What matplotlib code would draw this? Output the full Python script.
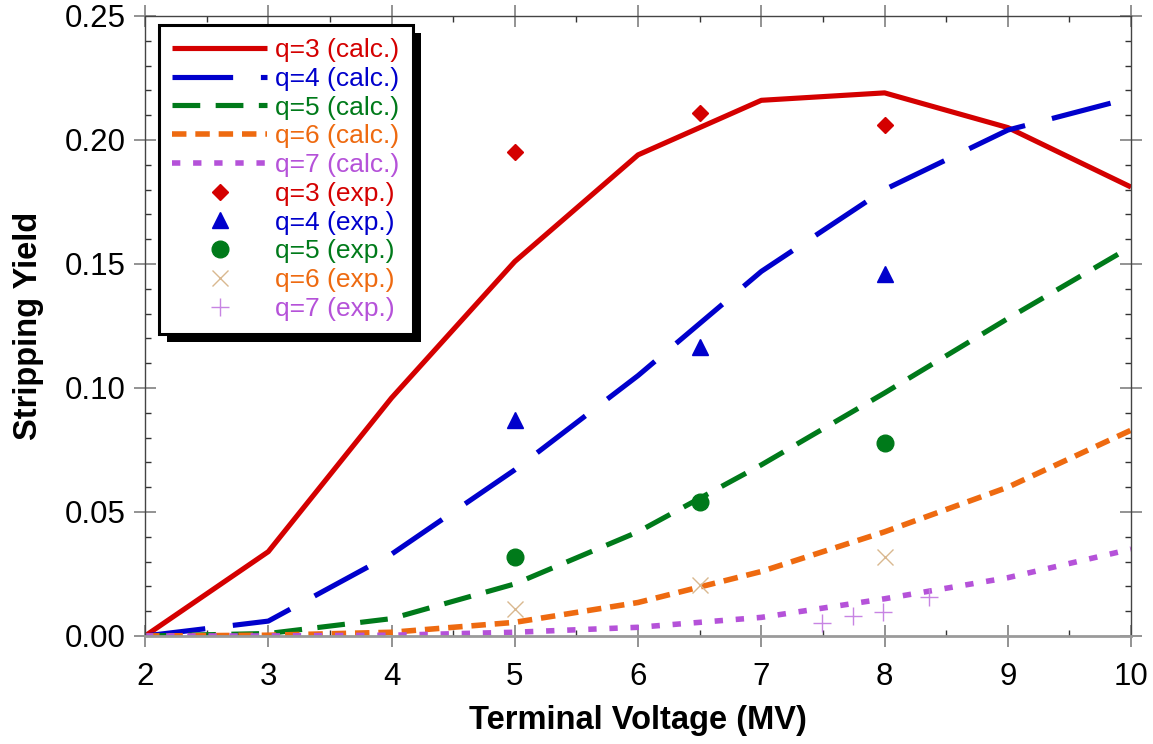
import matplotlib
matplotlib.use("Agg")
import matplotlib.pyplot as plt
from matplotlib.patches import Rectangle
from matplotlib.ticker import MultipleLocator, FormatStrFormatter

plt.rcParams['font.family'] = ['Liberation Sans', 'DejaVu Sans']

# calculated curves
v_calc = [2, 3, 4, 5, 6, 7, 8, 9, 10]
q3_calc = [0.0, 0.034, 0.096, 0.151, 0.194, 0.216, 0.219, 0.205, 0.181]
q4_calc = [0.0, 0.006, 0.033, 0.067, 0.105, 0.147, 0.180, 0.204, 0.217]
q5_calc = [0.0, 0.001, 0.007, 0.021, 0.042, 0.069, 0.098, 0.128, 0.157]
q6_calc = [0.0, 0.0003, 0.0015, 0.0055, 0.0135, 0.026, 0.042, 0.060, 0.083]
q7_calc = [0.0, 0.0, 0.0003, 0.0015, 0.0035, 0.0075, 0.015, 0.0235, 0.035]

# experimental points
v_exp = [5, 6.5, 8]
q3_exp = [0.195, 0.211, 0.206]
q4_exp = [0.087, 0.1165, 0.146]
q5_exp = [0.032, 0.054, 0.078]
q6_exp = [0.011, 0.0205, 0.032]
v_exp7 = [7.49, 7.74, 7.99, 8.36]
q7_exp = [0.0051, 0.0082, 0.0098, 0.0156]

c_red = '#d40000'
c_blue = '#0000cc'
c_green = '#007a1a'
c_orange = '#ee6a10'
c_purple = '#b552d9'

fig = plt.figure(figsize=(11.53, 7.44), dpi=100)
ax = fig.add_axes([0.1258, 0.1452, 0.9810 - 0.1258, 0.9785 - 0.1452])

lw = 3.7
h = []
h += ax.plot(v_calc, q3_calc, color=c_red, lw=lw, ls='-', label='q=3 (calc.)', solid_capstyle='butt')
h += ax.plot(v_calc, q4_calc, color=c_blue, lw=lw, ls=(0, (11.8, 5.4)), label='q=4 (calc.)', dash_capstyle='butt')
h += ax.plot(v_calc, q5_calc, color=c_green, lw=lw, ls=(0, (5.4, 3.0)), label='q=5 (calc.)', dash_capstyle='butt')
h += ax.plot(v_calc, q6_calc, color=c_orange, lw=lw + 0.3, ls=(0, (2.6, 1.6)), label='q=6 (calc.)', dash_capstyle='butt')
h += ax.plot(v_calc, q7_calc, color=c_purple, lw=lw + 0.3, ls=(0, (1.5, 2.3)), label='q=7 (calc.)', dash_capstyle='butt')

h += ax.plot(v_exp, q3_exp, ls='none', marker='D', ms=8, color=c_red, label='q=3 (exp.)')
h += ax.plot(v_exp, q4_exp, ls='none', marker='^', ms=12, color=c_blue, label='q=4 (exp.)')
h += ax.plot(v_exp, q5_exp, ls='none', marker='o', ms=12, color=c_green, label='q=5 (exp.)')
h += ax.plot(v_exp, q6_exp, ls='none', marker='x', ms=12, mew=1.0, color='#d9b88f', label='q=6 (exp.)')
h += ax.plot(v_exp7, q7_exp, ls='none', marker='+', ms=13, mew=1.0, color='#c784e3', label='q=7 (exp.)')

ax.set_xlim(2, 10)
ax.set_ylim(0, 0.25)
ax.xaxis.set_major_locator(MultipleLocator(1))
ax.xaxis.set_minor_locator(MultipleLocator(0.5))
ax.yaxis.set_major_locator(MultipleLocator(0.05))
ax.yaxis.set_minor_locator(MultipleLocator(0.01))
ax.yaxis.set_major_formatter(FormatStrFormatter('%.2f'))

ax.tick_params(which='major', direction='inout', length=16, width=1.3, color='#8a8a8a',
               labelsize=22.5, top=True, right=True, pad=6)
ax.tick_params(axis='x', which='major', pad=11)
ax.tick_params(which='minor', direction='in', length=4, width=1.0, color='#333333',
               top=True, right=True)
for s in ['left', 'right', 'top']:
    ax.spines[s].set_color('#444444')
    ax.spines[s].set_linewidth(1.0)
ax.spines['bottom'].set_color('#9a9a9a')
ax.spines['bottom'].set_linewidth(2.0)

ax.set_xlabel('Terminal Voltage (MV)', fontsize=23.5, fontweight='bold', labelpad=9)
ax.set_ylabel('Stripping Yield', fontsize=23.5, fontweight='bold', labelpad=15)

label_colors = [c_red, c_blue, c_green, c_orange, c_purple,
                c_red, c_blue, c_green, c_orange, c_purple]
leg = ax.legend(handles=h, loc='upper left', bbox_to_anchor=(0.0142, 0.9855),
                fontsize=19, labelcolor=label_colors, handlelength=3.6,
                handletextpad=0.3, labelspacing=0.18, borderpad=0.5,
                numpoints=1, fancybox=False, framealpha=1, borderaxespad=0)
leg.get_frame().set_edgecolor('black')
leg.get_frame().set_linewidth(2.2)
leg.set_zorder(10)

fig.canvas.draw()
bb = leg.get_window_extent()
shadow = Rectangle((bb.x0 + 8, bb.y0 - 8), bb.width, bb.height, transform=None,
                   facecolor='black', edgecolor='none', zorder=9)
ax.add_artist(shadow)

fig.savefig('out.png', dpi=100)
